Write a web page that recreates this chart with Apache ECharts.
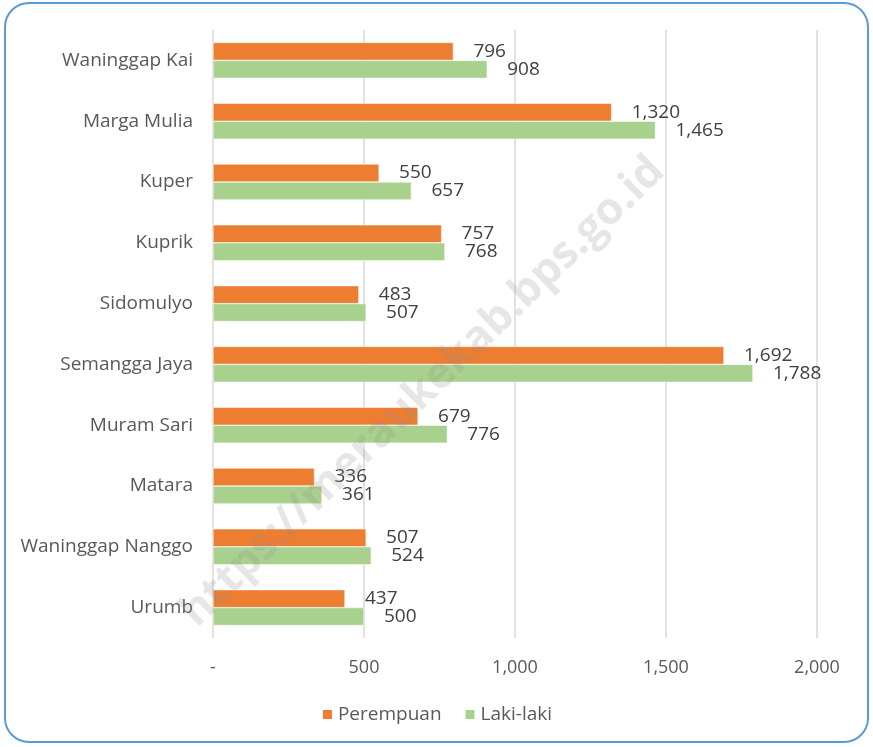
<!DOCTYPE html>
<html>
<head>
<meta charset="utf-8">
<script src="https://cdn.jsdelivr.net/npm/echarts@6/dist/echarts.min.js"></script>
<style>
  html, body { margin: 0; padding: 0; background: #fff; }
  #chart { width: 873px; height: 747px; }
</style>
</head>
<body>
<div id="chart"></div>
<script>
  // data
  var categories = ['Waninggap Kai', 'Marga Mulia', 'Kuper', 'Kuprik', 'Sidomulyo',
    'Semangga Jaya', 'Muram Sari', 'Matara', 'Waninggap Nanggo', 'Urumb'];
  var perempuan = [796, 1320, 550, 757, 483, 1692, 679, 336, 507, 437];
  var lakiLaki = [908, 1465, 657, 768, 507, 1788, 776, 361, 524, 500];
  var xTicks = [0, 500, 1000, 1500, 2000];

  var fontFam = '"Open Sans", "Noto Sans", sans-serif';
  function fmt(v) {
    return v === 0 ? '-' : v.toLocaleString('en-US');
  }

  var chart = echarts.init(document.getElementById('chart'));
  var labelCfg = {
    show: true,
    position: 'right',
    distance: 20,
    color: '#404040',
    fontSize: 19,
    fontFamily: fontFam,
    formatter: function (p) { return fmt(p.value); }
  };

  chart.setOption({
    animation: false,
    textStyle: { fontFamily: fontFam },
    grid: { left: 213, right: 56, top: 30, bottom: 109, containLabel: false },
    legend: {
      bottom: 18,
      left: 'center',
      itemWidth: 11,
      itemHeight: 11,
      itemGap: 22,
      icon: 'rect',
      textStyle: { color: '#595959', fontSize: 19, fontFamily: fontFam },
      data: ['Perempuan', 'Laki-laki']
    },
    xAxis: {
      type: 'value',
      min: xTicks[0],
      max: xTicks[xTicks.length - 1],
      interval: 500,
      axisLine: { show: false },
      axisTick: { show: false },
      splitLine: { lineStyle: { color: '#d9d9d9', width: 1.5 } },
      axisLabel: {
        color: '#595959', fontSize: 18, margin: 21,
        formatter: function (v) { return fmt(v); }
      }
    },
    yAxis: {
      type: 'category',
      inverse: true,
      data: categories,
      axisLine: { show: false },
      axisTick: { show: false },
      axisLabel: { color: '#595959', fontSize: 19, margin: 20 }
    },
    series: [
      {
        name: 'Perempuan', type: 'bar', data: perempuan,
        barGap: '0%', barCategoryGap: '41%',
        itemStyle: { color: '#ED7D31', borderColor: '#fff', borderWidth: 0.5 },
        label: labelCfg
      },
      {
        name: 'Laki-laki', type: 'bar', data: lakiLaki,
        itemStyle: { color: '#A9D18E', borderColor: '#fff', borderWidth: 0.5 },
        label: labelCfg
      }
    ],
    graphic: [
      {
        type: 'rect', silent: true, z: -1,
        shape: { x: 5, y: 3, width: 863, height: 739, r: 24 },
        style: { fill: 'none', stroke: '#5B9BD5', lineWidth: 2 }
      },
      {
        type: 'text', silent: true, z: 100,
        x: 423, y: 392, rotation: Math.PI / 4 * 0.98,
        style: {
          text: 'https://meraukekab.bps.go.id',
          fill: 'rgba(140,140,140,0.22)',
          font: 'bold 44px "Open Sans", sans-serif',
          align: 'center', verticalAlign: 'middle'
        }
      }
    ]
  });
</script>
</body>
</html>
